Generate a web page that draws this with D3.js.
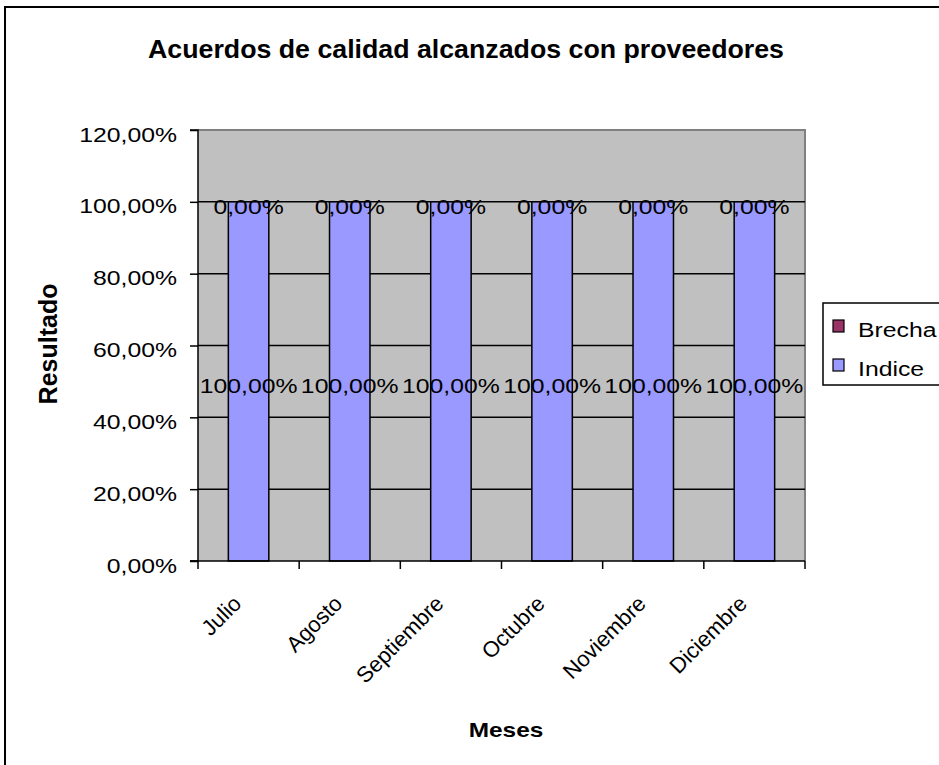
<!DOCTYPE html>
<html>
<head>
<meta charset="utf-8">
<script src="https://cdn.jsdelivr.net/npm/d3@7"></script>
<style>
  html, body { margin: 0; padding: 0; background: #fff; }
  svg { display: block; font-family: "Liberation Sans", Arial, sans-serif; }
</style>
</head>
<body>
<svg id="chart" width="939" height="765"></svg>
<script>
// Monthly results: quality agreements reached with suppliers
const months = ["Julio", "Agosto", "Septiembre", "Octubre", "Noviembre", "Diciembre"];
const indice = [1, 1, 1, 1, 1, 1];
const brecha = [0, 0, 0, 0, 0, 0];
const seriesNames = ["Brecha", "Indice"];
const seriesColors = ["#993366", "#9999ff"];
const yTicks = [0, 0.2, 0.4, 0.6, 0.8, 1.0, 1.2];

const W = 939, H = 765;
const plot = { left: 198, right: 805, top: 130, bottom: 561 };
const fs = 21;      // body text size
const sx = 1.18;    // horizontal stretch of body text

const svg = d3.select("#chart");
const pct = v => d3.format(".2f")(v * 100).replace(".", ",") + "%";

// chart frame
svg.append("rect").attr("x", 5).attr("y", 7).attr("width", W + 20).attr("height", H + 20)
  .attr("fill", "#fff").attr("stroke", "#000").attr("stroke-width", 2);

const x = d3.scaleBand().domain(months).range([plot.left, plot.right]).paddingInner(0).paddingOuter(0);
const y = d3.scaleLinear().domain([0, 1.2]).range([plot.bottom, plot.top]);

// plot area
svg.append("rect").attr("x", plot.left).attr("y", plot.top)
  .attr("width", plot.right - plot.left).attr("height", plot.bottom - plot.top)
  .attr("fill", "#c0c0c0");
svg.append("path")
  .attr("d", `M${plot.left},${plot.top}H${plot.right}V${plot.bottom}`)
  .attr("fill", "none").attr("stroke", "#808080").attr("stroke-width", 2);

// gridlines
svg.append("g").selectAll("line").data(yTicks.filter(t => t > 0 && t < 1.2)).join("line")
  .attr("x1", plot.left).attr("x2", plot.right)
  .attr("y1", d => y(d)).attr("y2", d => y(d))
  .attr("stroke", "#000").attr("stroke-width", 1.5);

// stacked bars
const rows = months.map((m, i) => ({ month: m, Indice: indice[i], Brecha: brecha[i] }));
const stack = d3.stack().keys(["Indice", "Brecha"])(rows);
const barW = x.bandwidth() * 0.4;
const colorOf = { Indice: seriesColors[1], Brecha: seriesColors[0] };

stack.forEach(layer => {
  svg.append("g").selectAll("rect").data(layer).join("rect")
    .attr("x", d => x(d.data.month) + (x.bandwidth() - barW) / 2)
    .attr("y", d => y(d[1]))
    .attr("width", barW)
    .attr("height", d => y(d[0]) - y(d[1]))
    .attr("fill", colorOf[layer.key])
    .attr("stroke", "#000").attr("stroke-width", 1.5);
});

// value labels
stack.forEach(layer => {
  svg.append("g").selectAll("text").data(layer).join("text")
    .attr("text-anchor", "middle")
    .attr("font-size", fs)
    .attr("transform", d => `translate(${x(d.data.month) + x.bandwidth() / 2},${(y(d[0]) + y(d[1])) / 2 + 12}) scale(${sx},1)`)
    .text(d => pct(d[1] - d[0]));
});

// y axis
const yAxis = svg.append("g").attr("transform", `translate(${plot.left},0)`)
  .call(d3.axisLeft(y).tickValues(yTicks).tickSize(8).tickFormat(pct));
yAxis.select(".domain").attr("stroke", "#000").attr("stroke-width", 1.5).attr("d", `M-8,${plot.top}H0V${plot.bottom}H-8`);
yAxis.selectAll(".tick line").attr("stroke-width", 1.5);
yAxis.selectAll("text")
  .attr("font-size", fs).attr("font-family", null).attr("fill", "#000")
  .attr("x", 0).attr("dy", null)
  .attr("transform", `translate(-21,11) scale(${sx},1)`);

// x axis
const xAxis = svg.append("g").attr("transform", `translate(0,${plot.bottom})`);
xAxis.append("line").attr("x1", plot.left - 8).attr("x2", plot.right).attr("stroke", "#000").attr("stroke-width", 1.5);
xAxis.selectAll(".tk").data(months.concat([null])).join("line")
  .attr("x1", (d, i) => plot.left + i * x.step()).attr("x2", (d, i) => plot.left + i * x.step())
  .attr("y1", 0).attr("y2", 8).attr("stroke", "#000").attr("stroke-width", 1.5);
xAxis.selectAll("text").data(months).join("text")
  .attr("text-anchor", "end")
  .attr("font-size", 22)
  .attr("transform", d => `translate(${x(d) + x.bandwidth() / 2 - 6},44) rotate(-45)`)
  .text(d => d);

// titles
svg.append("text").attr("text-anchor", "middle")
  .attr("transform", `translate(466,58) scale(1.07,1)`)
  .attr("font-size", 25).attr("font-weight", "bold").text("Acuerdos de calidad alcanzados con proveedores");
svg.append("text").attr("transform", `translate(57,344) rotate(-90)`).attr("text-anchor", "middle")
  .attr("font-size", 25).attr("font-weight", "bold").text("Resultado");
svg.append("text").attr("text-anchor", "middle")
  .attr("transform", `translate(506,737) scale(1.22,1)`)
  .attr("font-size", 20).attr("font-weight", "bold").text("Meses");

// legend
const lg = svg.append("g").attr("transform", "translate(823,303)");
lg.append("rect").attr("width", 140).attr("height", 82).attr("fill", "#fff").attr("stroke", "#000").attr("stroke-width", 1.5);
seriesNames.forEach((n, i) => {
  lg.append("rect").attr("x", 10).attr("y", 17 + i * 39).attr("width", 11).attr("height", 12)
    .attr("fill", seriesColors[i]).attr("stroke", "#000").attr("stroke-width", 1.2);
  lg.append("text").attr("transform", `translate(35,${34 + i * 39}) scale(${sx},1)`)
    .attr("font-size", fs).text(n);
});
</script>
</body>
</html>
